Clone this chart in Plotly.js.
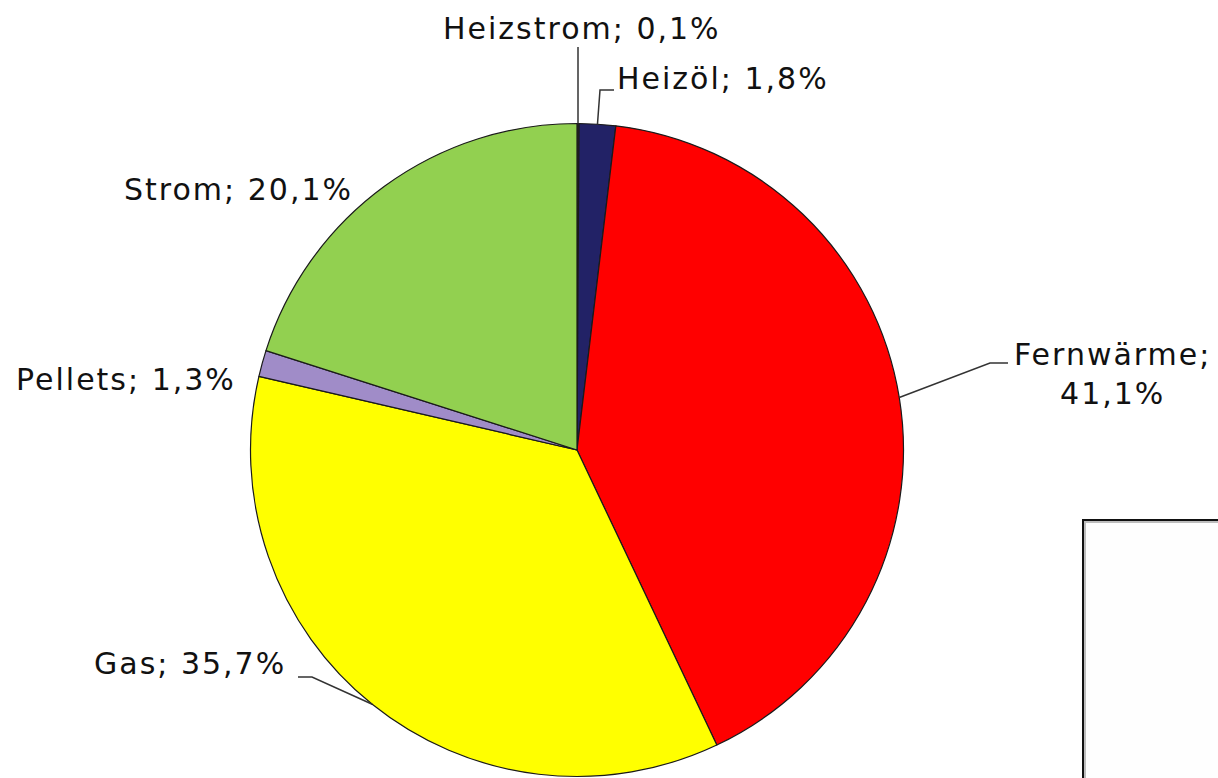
<!DOCTYPE html>
<html>
<head>
<meta charset="utf-8">
<script src="https://cdn.plot.ly/plotly-3.0.1.min.js"></script>
<style>
  html, body { margin: 0; padding: 0; background: #ffffff; }
  #chart { width: 1218px; height: 778px; }
  .annotation-text { letter-spacing: 2px; }
</style>
</head>
<body>
<div id="chart"></div>
<script>
// ---- data ----
const categories = ["Heizstrom", "Heizöl", "Fernwärme", "Gas", "Pellets", "Strom"];
const shares = [0.1, 1.8, 41.1, 35.7, 1.3, 20.1];
const valueLabels = ["0,1%", "1,8%", "41,1%", "35,7%", "1,3%", "20,1%"];
const colors = ["#3a3a3a", "#222266", "#ff0000", "#ffff00", "#a08cc8", "#92d050"];

// ---- layout (pixels) ----
const W = 1218, H = 778;
const cx = 577, cy = 450, R = 326.5;
// label text centers and optional elbow points of leader lines
const labelText = [
  "Heizstrom; 0,1%", "Heizöl; 1,8%", "Fernwärme;<br>41,1%",
  "Gas; 35,7%", "Pellets; 1,3%", "Strom; 20,1%"
];
const labelPos = [[582, 29], [723, 79], [1112, 374], [190, 663], [126, 380], [238, 189]];
const elbowA = [[578, 47], [600, 90], [990, 363], [312, 677], null, null];
const elbowB = [null, [614, 90], [1008, 363], [298, 677], null, null];

const px = x => x / W;
const py = y => 1 - y / H;

const total = shares.reduce((a, b) => a + b, 0);
let cum = 0;
const edgePts = shares.map(v => {
  const mid = (cum + v / 2) / total;
  cum += v;
  const ang = mid * 2 * Math.PI;
  return [cx + R * Math.sin(ang), cy - R * Math.cos(ang)];
});

const trace = {
  type: "pie",
  labels: categories,
  values: shares,
  sort: false,
  direction: "clockwise",
  rotation: 0,
  textinfo: "none",
  hoverinfo: "label+percent",
  marker: { colors: colors, line: { color: "#1a1a1a", width: 1.2 } },
  domain: { x: [px(cx - R), px(cx + R)], y: [py(cy + R), py(cy - R)] },
  showlegend: false
};

const annotations = labelText.map((t, i) => ({
  xref: "paper", yref: "paper",
  x: px(labelPos[i][0]), y: py(labelPos[i][1]),
  xanchor: "center", yanchor: "middle",
  text: t, showarrow: false, align: "center",
  font: { family: "DejaVu Sans, Verdana, sans-serif", size: 30, color: "#111111" }
}));

const shapes = [];
edgePts.forEach((p, i) => {
  if (!elbowA[i]) return;
  let path = `M ${px(p[0])} ${py(p[1])} L ${px(elbowA[i][0])} ${py(elbowA[i][1])}`;
  if (elbowB[i]) path += ` L ${px(elbowB[i][0])} ${py(elbowB[i][1])}`;
  shapes.push({ type: "path", xref: "paper", yref: "paper", path: path,
    line: { color: "#333333", width: 1.5 } });
});
// empty framed box at the lower right
shapes.push({ type: "rect", xref: "paper", yref: "paper",
  x0: px(1085), x1: px(1240), y0: py(800), y1: py(522),
  line: { color: "#bdbdbd", width: 2 }, fillcolor: "#fefefe" });
shapes.push({ type: "rect", xref: "paper", yref: "paper",
  x0: px(1083), x1: px(1240), y0: py(800), y1: py(520),
  line: { color: "#111111", width: 2 }, fillcolor: "rgba(0,0,0,0)" });

const layout = {
  width: W, height: H,
  margin: { l: 0, r: 0, t: 0, b: 0 },
  paper_bgcolor: "#ffffff",
  plot_bgcolor: "#ffffff",
  annotations: annotations,
  shapes: shapes
};

Plotly.newPlot("chart", [trace], layout, { displayModeBar: false, staticPlot: true });
</script>
</body>
</html>
